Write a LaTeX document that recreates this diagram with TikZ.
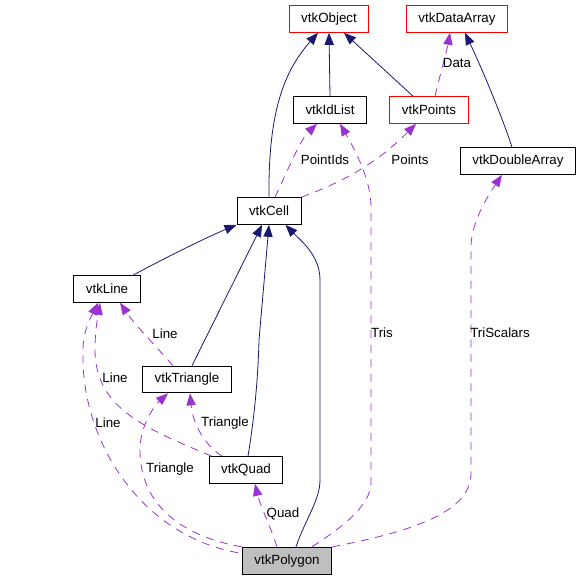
\documentclass[tikz,border=0pt]{standalone}
\usepackage{fontspec}
\setmainfont{Liberation Sans}
\usepackage{xcolor}
\usepackage{tikz}
\usetikzlibrary{arrows.meta,calc}

\definecolor{edgeblue}{HTML}{191970}
\definecolor{edgepurple}{HTML}{9A32CD}

\begin{document}
\begin{tikzpicture}[x=0.75pt,y=-0.75pt,
  classbox/.style={draw=black,line width=0.75pt,rectangle,inner xsep=9pt,inner ysep=0pt,minimum height=20pt,font=\fontsize{10}{12}\selectfont},
  extbox/.style={classbox,draw=red},
  focusbox/.style={classbox,fill=black!25},
  edgelabel/.style={inner sep=0pt,font=\fontsize{10}{12}\selectfont},
  inheritline/.style={draw=edgeblue,line width=0.6pt,-{Triangle[length=9pt,width=7pt]}},
  memberline/.style={draw=edgepurple,line width=0.6pt,dash pattern=on 6pt off 5pt,-{Triangle[length=9pt,width=7pt]}}]
\useasboundingbox (0,0) rectangle (580,579);

% classi
\node[extbox] (object) at (329,19) {vtkObject};
\node[extbox] (dataarray) at (457,19) {vtkDataArray};
\node[classbox] (idlist) at (330,110) {vtkIdList};
\node[extbox] (points) at (429,110) {vtkPoints};
\node[classbox] (doublearray) at (518,161) {vtkDoubleArray};
\node[classbox] (cell) at (269,211) {vtkCell};
\node[classbox] (line) at (107,289) {vtkLine};
\node[classbox] (triangle) at (187,379.5) {vtkTriangle};
\node[classbox] (quad) at (246,470) {vtkQuad};
\node[focusbox] (polygon) at (287,560.7) {vtkPolygon};

% ereditarieta
\draw[inheritline] (cell.north) .. controls (268,110) and (285,70) .. ($(object.south)+(-11,0)$);
\draw[inheritline] (idlist.north) -- (object.south);
\draw[inheritline] ($(points.north)+(-16,0)$) -- ($(object.south)+(15,0)$);
\draw[inheritline] ($(doublearray.north)+(-6,0)$) .. controls (505,125) and (485,75) .. ($(dataarray.south)+(8,0)$);
\draw[inheritline] ($(line.north)+(26,0)$) .. controls (165,258) and (205,238) .. (cell.south west);
\draw[inheritline] ($(triangle.north)+(5,0)$) -- ($(cell.south)+(-7,0)$);
\draw[inheritline] ($(quad.north)+(2,0)$) .. controls (254,420) and (258,380) .. (259,340) -- (cell.south);
\draw[inheritline] ($(polygon.north)+(9,0)$) .. controls (305,520) and (320,500) .. (320,480) -- (320,280)
  .. controls (320,255) and (300,240) .. ($(cell.south east)+(-16,0)$);

% membri
\draw[memberline] ($(cell.north)+(6,0)$) .. controls (288,170) and (300,140) .. ($(idlist.south)+(-13,0)$);
\node[edgelabel] (lpointids) at (325,160) {PointIds};

\draw[memberline] ($(polygon.north)+(25,0)$) .. controls (345,525) and (371,505) .. (371,482) -- (371,207)
  .. controls (371,180) and (355,150) .. ($(idlist.south)+(10,0)$);
\node[edgelabel] (ltris) at (382,333) {Tris};

\draw[memberline] (cell.north east) .. controls (340,183) and (375,165) .. ($(points.south)+(-13,0)$);
\node[edgelabel] (lpoints) at (410,160) {Points};

\draw[memberline] ($(points.north)+(6,0)$) .. controls (440,75) and (447,50) .. ($(dataarray.south)+(-7,0)$);
\node[edgelabel] (ldata) at (457,63) {Data};

\draw[memberline] (polygon.north east) .. controls (420,530) and (471,510) .. (471,473) -- (471,247)
  .. controls (471,225) and (485,200) .. ($(doublearray.south)+(-16,0)$);
\node[edgelabel] (ltriscalars) at (500,333) {TriScalars};

\draw[memberline] ($(polygon.west)+(-4,-8)$) .. controls (140,535) and (80,440) .. (83,350)
  .. controls (83,330) and (92,315) .. ($(line.south)+(-9,0)$);
\node[edgelabel] (lline1) at (108,423) {Line};

\draw[memberline] ($(quad.north west)+(3,0)$) .. controls (150,430) and (95,410) .. (95,350)
  .. controls (95,330) and (98,315) .. ($(line.south)+(-7,0)$);
\node[edgelabel] (lline2) at (115,378) {Line};

\draw[memberline] ($(triangle.north)+(-14,0)$) .. controls (155,345) and (135,325) .. ($(line.south)+(13,0)$);
\node[edgelabel] (lline3) at (165,334) {Line};

\draw[memberline] ($(quad.north)+(-24,0)$) .. controls (205,445) and (193,425) .. ($(triangle.south)+(3,0)$);
\node[edgelabel] (ltriangle1) at (225,423) {Triangle};

\draw[memberline] (polygon.north west) .. controls (175,535) and (140,500) .. (140,450)
  .. controls (140,425) and (155,405) .. ($(triangle.south)+(-19,0)$);
\node[edgelabel] (ltriangle2) at (170,469) {Triangle};

\draw[memberline] ($(polygon.north)+(-10,0)$) .. controls (270,525) and (260,505) .. ($(quad.south)+(9,0)$);
\node[edgelabel] (lquad) at (283,514) {Quad};

\end{tikzpicture}
\end{document}
